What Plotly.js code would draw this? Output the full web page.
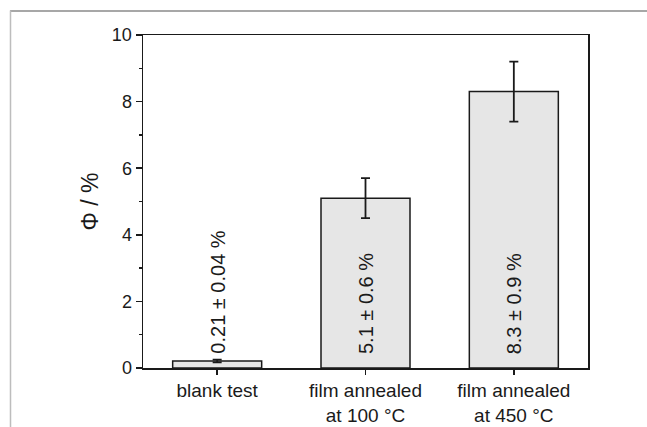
<!DOCTYPE html>
<html>
<head>
<meta charset="utf-8">
<script src="https://cdn.plot.ly/plotly-3.0.1.min.js"></script>
<style>
html,body{margin:0;padding:0;background:#fff;}
#chart{width:647px;height:427px;}
</style>
</head>
<body>
<div id="chart"></div>
<script>
// Data
const categories = ["blank test", "film annealed<br>at 100 °C", "film annealed<br>at 450 °C"];
const quantumYield = [0.21, 5.1, 8.3];
const errors = [0.04, 0.6, 0.9];
const valueLabels = ["0.21 ± 0.04 %", "5.1 ± 0.6 %", "8.3 ± 0.9 %"];
const yTickVals = [0, 2, 4, 6, 8, 10];

const trace = {
  type: "bar",
  x: categories,
  y: quantumYield,
  width: 0.6,
  marker: {color: "#e6e6e6", line: {color: "#1a1a1a", width: 1.5}},
  error_y: {type: "data", array: errors, visible: true, color: "#1a1a1a", thickness: 1.8, width: 4.5},
  hoverinfo: "none"
};

const annotations = categories.map((c, i) => ({
  x: c, y: 0, xref: "x", yref: "y",
  text: valueLabels[i],
  textangle: -90,
  showarrow: false,
  xanchor: "center", yanchor: "bottom",
  yshift: 12,
  font: {family: "Liberation Sans, Arial, sans-serif", size: 20, color: "#1a1a1a"}
}));

const layout = {
  width: 647, height: 427,
  margin: {l: 143, r: 59, t: 34.5, b: 59},
  paper_bgcolor: "#ffffff",
  plot_bgcolor: "#ffffff",
  showlegend: false,
  font: {family: "Liberation Sans, Arial, sans-serif", color: "#1a1a1a"},
  xaxis: {
    type: "category",
    range: [-0.5, 2.5],
    showline: true, mirror: true, linecolor: "#1a1a1a", linewidth: 1.5,
    ticks: "outside", ticklen: 5, tickwidth: 1.5, tickcolor: "#1a1a1a",
    showgrid: false, zeroline: false,
    tickfont: {size: 19, color: "#1a1a1a"}
  },
  yaxis: {
    range: [0, 10],
    tickvals: yTickVals,
    showline: true, mirror: true, linecolor: "#1a1a1a", linewidth: 1.5,
    ticks: "outside", ticklen: 6, tickwidth: 1.5, tickcolor: "#1a1a1a",
    minor: {dtick: 1, ticks: "outside", ticklen: 3, tickwidth: 1.5, tickcolor: "#1a1a1a", showgrid: false},
    showgrid: false, zeroline: false,
    tickfont: {size: 18, color: "#1a1a1a"},
    title: {text: "Φ / %", font: {size: 23, color: "#1a1a1a"}, standoff: 7}
  },
  annotations: annotations,
  shapes: [
    {type: "line", xref: "paper", yref: "paper", x0: (10 - 143) / 445, x1: (647 - 143) / 445, y0: (368 - 10.5) / 333.5, y1: (368 - 10.5) / 333.5, line: {color: "#8a8a8a", width: 1.5}},
    {type: "line", xref: "paper", yref: "paper", x0: (10.5 - 143) / 445, x1: (10.5 - 143) / 445, y0: (368 - 10) / 333.5, y1: (368 - 427) / 333.5, line: {color: "#bdbdbd", width: 1.5}}
  ]
};

Plotly.newPlot("chart", [trace], layout, {displayModeBar: false, staticPlot: true});
</script>
</body>
</html>
